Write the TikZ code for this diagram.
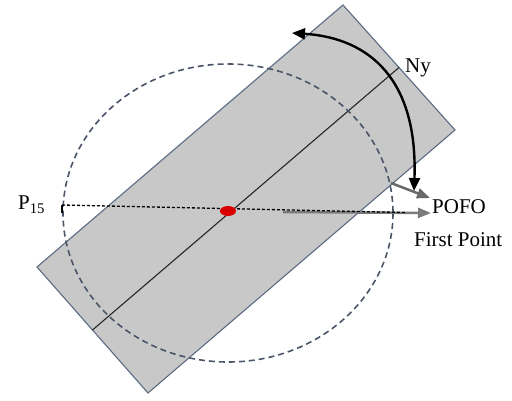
\documentclass[tikz,border=0pt]{standalone}
\usepackage{fontspec}
\setmainfont{Liberation Serif}
\usetikzlibrary{arrows.meta,shapes.geometric}
\definecolor{rectfill}{HTML}{C8C8C8}
\definecolor{rectedge}{HTML}{5B6B80}
\definecolor{circedge}{HTML}{4A5568}
\definecolor{arrgray}{HTML}{7A7A7A}
\tikzset{
  lbl/.style={inner sep=0pt, font=\fontsize{21}{25}\selectfont},
  plate/.style={fill=rectfill, draw=rectedge, line width=1.1pt},
  orbit/.style={draw=circedge, line width=1.6pt, dash pattern=on 6pt off 4pt},
  axisline/.style={draw=black!85, line width=1.1pt},
  grayarrow/.style={draw=arrgray, line width=2.5pt, -{Triangle[length=13pt,width=10pt]}},
  rotarrow/.style={draw=black, line width=2.4pt, {Triangle[length=13pt,width=11pt]}-{Triangle[length=13pt,width=11pt]}},
  refline/.style={draw=black, line width=1.3pt, dash pattern=on 3pt off 2pt}
}
\begin{document}
\begin{tikzpicture}[x=1pt,y=-1pt]
\useasboundingbox (0,0) rectangle (512,401);
% plate
\draw[plate] (343,5) -- (455,130) -- (148,393) -- (37,267) -- cycle;
% midline
\coordinate (mtop) at (399,67.5);
\coordinate (mbot) at (92.5,330);
\draw[axisline] (mtop) -- (mbot);
% dashed circle
\draw[orbit] (228,213) ellipse [x radius=165, y radius=149];
% coordinates
\coordinate (p15) at (62,205);
\coordinate (fpend) at (431,213);
\coordinate (graystart) at (283,212);
\coordinate (dashend) at (405,212.5);
\coordinate (pofostart) at (391,183);
\coordinate (pofoend) at (430,198);
\coordinate (arcA) at (292,33);
\coordinate (arcB) at (414,191);
% first point arrow
\draw[grayarrow] (graystart) -- (fpend);
\draw[refline] (p15) -- (dashend);
\draw[draw=black, line width=1.1pt] (p15) -- ++(0,8);
% POFO arrow
\draw[grayarrow, draw=arrgray!85!black] (pofostart) -- (pofoend);
% red dot
\node[ellipse, fill=red!85!black, minimum width=16pt, minimum height=10pt, inner sep=0pt] (dot) at (228,211) {};
% rotation arrow
\draw[rotarrow] (arcA) .. controls (370,38) and (418,80) .. (arcB);
% labels
\node[lbl, anchor=base west] (ny) at (405,73) {Ny};
\node[lbl, anchor=base west] (pofo) at (432,214) {POFO};
\node[lbl, anchor=base west] (fp) at (414,247) {First Point};
\node[lbl, anchor=base west] (p) at (18,210) {P\textsubscript{15}};
\end{tikzpicture}
\end{document}
